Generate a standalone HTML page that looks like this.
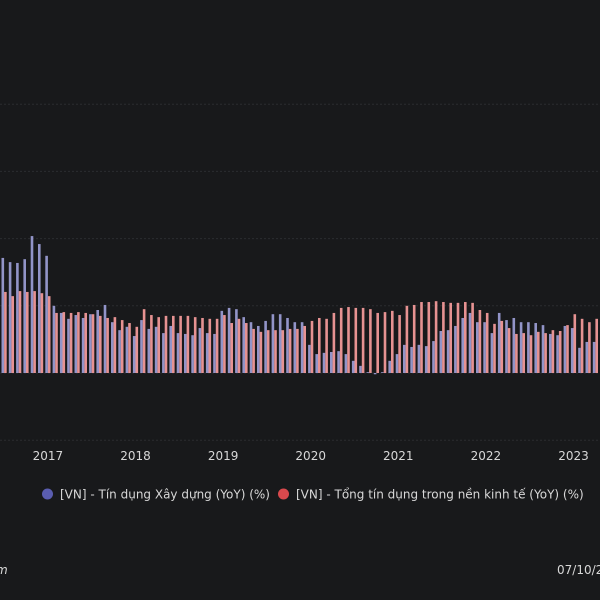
<!DOCTYPE html>
<html><head><meta charset="utf-8"><style>
html,body{margin:0;padding:0;background:#18191b;width:600px;height:600px;overflow:hidden}
svg{display:block}
text{font-family:"DejaVu Sans","Liberation Sans",sans-serif;fill:#d8d8d8}
</style></head><body>
<svg id="chart" width="600" height="600">
<rect width="600" height="600" fill="#18191b"/>
<g id="grid"></g><g id="bars"></g><g id="xaxis"></g>
<g>
<g>
<circle cx="47.5" cy="494" r="5.5" fill="#5a5db0"/>
<text x="60" y="498.5" font-size="12">[VN] - Tín dụng Xây dựng (YoY) (%)</text></g>
<g>
<circle cx="283.5" cy="494" r="5.5" fill="#d9494d"/>
<text x="296" y="498.5" font-size="12">[VN] - Tổng tín dụng trong nền kinh tế (YoY) (%)</text></g>
</g>
<text x="-4" y="574" font-size="12" font-style="italic">m</text>
<text x="557" y="574" font-size="12">07/10/2023</text>
</svg>
<script>
const yearLabels=["2017","2018","2019","2020","2021","2022","2023"];
const yearStartIndex=[6,18,30,42,54,66,78];
const gridValues=[-16,0,16,32,48,64];
const construction=[27.4,26.4,26.2,27.1,32.6,30.7,27.9,16.0,14.3,12.9,13.8,13.1,14.0,15.0,16.2,12.1,10.2,11.0,8.8,12.6,10.5,
11.0,9.5,11.2,9.5,9.3,9.0,10.7,9.5,9.3,14.8,15.5,15.2,13.3,12.1,11.2,12.4,14.0,14.0,13.1,12.1,
12.1,6.7,4.5,4.8,5.0,5.2,4.5,2.9,1.7,0.2,-0.3,0.2,2.9,4.5,6.7,6.2,6.7,6.4,7.6,10.0,10.2,
11.2,13.1,14.3,12.1,12.1,9.5,14.3,12.6,13.1,12.1,12.1,11.9,11.4,9.3,9.0,11.2,10.7,6.0,7.4,7.4];
const totalCredit=[19.3,18.3,19.5,19.3,19.5,19.0,18.3,14.3,14.5,14.3,14.5,14.3,14.0,13.6,13.1,13.3,12.6,11.9,11.0,15.2,13.8,
13.3,13.6,13.6,13.6,13.6,13.3,13.1,12.9,12.9,13.8,11.9,12.9,11.9,10.5,9.8,10.2,10.2,10.2,10.5,10.5,
11.2,12.4,13.1,12.9,14.3,15.5,15.7,15.5,15.5,15.2,14.3,14.5,14.8,13.8,16.0,16.2,16.9,16.9,17.1,16.9,16.7,
16.7,16.9,16.7,15.0,14.3,11.7,12.4,10.7,9.3,9.5,9.0,9.8,9.5,10.2,10.0,11.4,14.0,12.9,12.1,12.9];
const NS="http://www.w3.org/2000/svg";
function yScale(v){return 373-v*4.2;}
function xScale(i){return 1.5+7.3*i;}
const grid=document.getElementById('grid'),bars=document.getElementById('bars'),xa=document.getElementById('xaxis');
gridValues.forEach(v=>{
 const l=document.createElementNS(NS,'line');
 
 
 l.setAttribute('x1',0);l.setAttribute('x2',600);l.setAttribute('y1',yScale(v));l.setAttribute('y2',yScale(v));
 l.setAttribute('stroke','#2a2c30');l.setAttribute('stroke-dasharray','2,2');
 grid.appendChild(l);
});
function bar(i,v,off,color,name){
 const r=document.createElementNS(NS,'rect');
 
 
 const y0=yScale(0),y1=yScale(v);
 r.setAttribute('x',xScale(i)+off);r.setAttribute('width',2.6);
 r.setAttribute('y',Math.min(y0,y1));r.setAttribute('height',Math.max(0.8,Math.abs(y0-y1)));
 r.setAttribute('fill',color);
 bars.appendChild(r);
}
construction.forEach((v,i)=>bar(i,v,0,'#9294c8','bar-construction'));
totalCredit.forEach((v,i)=>bar(i,v,2.6,'#e69292','bar-total-credit'));
yearLabels.forEach((t,k)=>{
 const tx=document.createElementNS(NS,'text');
 
 
 tx.setAttribute('x',xScale(yearStartIndex[k])+2.6);tx.setAttribute('y',460);
 tx.setAttribute('font-size','12');tx.setAttribute('text-anchor','middle');
 tx.textContent=t;xa.appendChild(tx);
});
</script>
</body></html>
